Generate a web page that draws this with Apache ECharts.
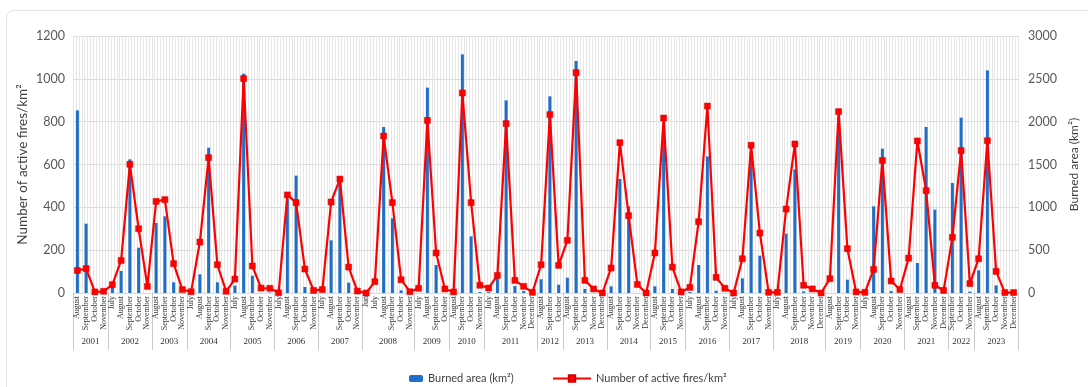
<!DOCTYPE html>
<html>
<head>
<meta charset="utf-8">
<script src="https://cdn.jsdelivr.net/npm/echarts@6/dist/echarts.min.js"></script>
<style>
  html, body { margin: 0; padding: 0; background: #fff; }
  #frame { position: absolute; left: 6px; top: 10px; width: 1090px; height: 400px; border: 1px solid #e3e3e3; border-radius: 8px; }
  #chart { position: absolute; left: 0; top: 0; width: 1088px; height: 387px; }
</style>
</head>
<body>
<div id="frame"></div>
<div id="chart"></div>
<script>
const years = ["2001", "2002", "2003", "2004", "2005", "2006", "2007", "2008", "2009", "2010", "2011", "2012",
  "2013", "2014", "2015", "2016", "2017", "2018", "2019", "2020", "2021", "2022", "2023"];

const yearMonths = [
  ["August", "September", "October", "November"],
  ["July", "August", "September", "October", "November"],
  ["August", "September", "October", "November"],
  ["July", "August", "September", "October", "November"],
  ["July", "August", "September", "October", "November"],
  ["July", "August", "September", "October", "November"],
  ["July", "August", "September", "October", "November"],
  ["Jun", "July", "August", "September", "October", "November"],
  ["July", "August", "September", "October"],
  ["August", "September", "October", "November"],
  ["July", "August", "September", "October", "November", "December"],
  ["August", "September", "October"],
  ["August", "September", "October", "November", "December"],
  ["August", "September", "October", "November", "December"],
  ["August", "September", "October", "November"],
  ["July", "August", "September", "October", "November"],
  ["July", "August", "September", "October", "November"],
  ["July", "August", "September", "October", "November", "December"],
  ["August", "September", "October", "November"],
  ["July", "August", "September", "October", "November"],
  ["August", "September", "October", "November", "December"],
  ["September", "October", "November"],
  ["August", "September", "October", "November", "December"]
];

// burned area, km² (right axis)
const burnedArea = [
  2132, 809, 0, 0,
  70, 257, 1560, 529, 0,
  817, 895, 125, 0,
  0, 218, 1696, 125, 0,
  86, 2560, 202, 0, 5,
  0, 1101, 1370, 70, 0,
  0, 615, 1315, 121, 0,
  0, 0, 1938, 872, 31, 0,
  0, 2397, 327, 0,
  0, 2786, 661, 12,
  10, 187, 2249, 82, 23, 0,
  160, 2296, 97,
  179, 2708, 47, 0, 0,
  78, 1331, 1012, 0, 0,
  78, 1950, 47, 0,
  12, 327, 1595, 27, 0,
  0, 171, 1650, 436, 0,
  0, 693, 1444, 19, 0, 0,
  0, 2050, 156, 0,
  0, 1012, 1685, 23, 0,
  0, 350, 1938, 973, 0,
  1284, 2047, 16,
  265, 2599, 89, 0, 0
];

// number of active fires/km² (left axis)
const activeFires = [
  105, 114, 5, 8,
  39, 152, 601, 300, 31,
  428, 436, 137, 16,
  6, 238, 632, 132, 8,
  65, 1001, 126, 23, 22,
  1, 458, 422, 112, 12,
  16, 425, 532, 121, 9,
  0, 53, 733, 422, 62, 6,
  22, 806, 187, 19,
  5, 934, 422, 36,
  23, 82, 791, 59, 31, 3,
  132, 833, 129,
  246, 1029, 59, 19, 0,
  117, 702, 361, 40, 0,
  187, 817, 121, 5,
  26, 333, 873, 73, 22,
  0, 160, 690, 280, 3,
  3, 392, 696, 36, 19, 0,
  67, 847, 207, 5,
  3, 110, 619, 56, 16,
  163, 710, 478, 36, 12,
  260, 665, 44,
  160, 711, 101, 2, 2
];

const months = yearMonths.flat();

// year group boundaries and centres on the category index scale
const yearBounds = [-0.5];
const yearCentres = [];
yearMonths.forEach(function (m) {
  const start = yearBounds[yearBounds.length - 1];
  yearCentres.push(start + m.length / 2);
  yearBounds.push(start + m.length);
});

const gridLines = new Array(months.length * 3).fill("");
const plain = function (v) { return String(v); };

const chart = echarts.init(document.getElementById("chart"));
chart.setOption({
  backgroundColor: "transparent",
  animation: false,
  textStyle: { fontFamily: "Lato" },
  grid: { left: 73, right: 60, top: 36, bottom: 94 },
  legend: [
    {
      data: ["Burned area (km²)"],
      left: 404, top: 368,
      itemWidth: 14, itemHeight: 7,
      textStyle: { color: "#404040", fontSize: 11 }
    },
    {
      data: ["Number of active fires/km²"],
      left: 547, top: 368,
      itemWidth: 38, itemHeight: 8,
      textStyle: { color: "#404040", fontSize: 11 }
    }
  ],
  xAxis: [
    {
      type: "category",
      data: months,
      axisLine: { lineStyle: { color: "#d9d9d9" } },
      axisTick: { show: false },
      axisLabel: {
        interval: 0, rotate: 90, margin: 3,
        fontFamily: "Liberation Serif", fontSize: 8, color: "#333"
      },
      splitLine: { show: false }
    },
    {
      type: "category",
      data: gridLines,
      position: "bottom",
      axisLine: { show: false },
      axisTick: { show: false },
      axisLabel: { show: false },
      splitLine: { show: true, interval: 0, lineStyle: { color: "#e6e6e6", width: 1 } }
    },
    {
      type: "value",
      min: -0.5,
      max: months.length - 0.5,
      position: "bottom",
      axisLine: { show: false },
      splitLine: { show: false },
      axisTick: {
        show: true, customValues: yearBounds, length: 57,
        lineStyle: { color: "#c8c8c8" }
      },
      axisLabel: {
        customValues: yearCentres,
        margin: 44,
        fontFamily: "Liberation Serif", fontSize: 9, color: "#333",
        formatter: function (v) {
          const i = yearCentres.findIndex(function (c) { return Math.abs(c - v) < 0.01; });
          return i >= 0 ? years[i] : "";
        }
      }
    }
  ],
  yAxis: [
    {
      type: "value",
      min: 0, max: 1200, interval: 200,
      name: "Number of active fires/km²",
      nameLocation: "middle",
      nameGap: 43,
      nameMoveOverlap: false,
      nameTextStyle: { color: "#404040", fontSize: 13.5 },
      axisLine: { show: false },
      axisTick: { show: false },
      axisLabel: { color: "#595959", fontSize: 12.5, margin: 8, formatter: plain },
      splitLine: { lineStyle: { color: "#d9d9d9" } }
    },
    {
      type: "value",
      min: 0, max: 3000, interval: 500,
      name: "Burned area (km²)",
      nameLocation: "middle",
      nameGap: 50,
      nameTextStyle: { color: "#404040", fontSize: 12 },
      axisLine: { show: false },
      axisTick: { show: false },
      axisLabel: { color: "#595959", fontSize: 12.5, margin: 10, formatter: plain },
      splitLine: { show: false }
    }
  ],
  series: [
    {
      name: "Burned area (km²)",
      type: "bar",
      xAxisIndex: 0,
      yAxisIndex: 1,
      barWidth: 3,
      itemStyle: { color: "#1f6fc9" },
      data: burnedArea
    },
    {
      name: "Number of active fires/km²",
      type: "line",
      xAxisIndex: 0,
      yAxisIndex: 0,
      symbol: "rect",
      symbolSize: 6,
      itemStyle: { color: "#ff0000", borderColor: "#d00000", borderWidth: 0.5 },
      lineStyle: { color: "#ff0000", width: 2.2 },
      data: activeFires
    }
  ]
});
</script>
</body>
</html>
